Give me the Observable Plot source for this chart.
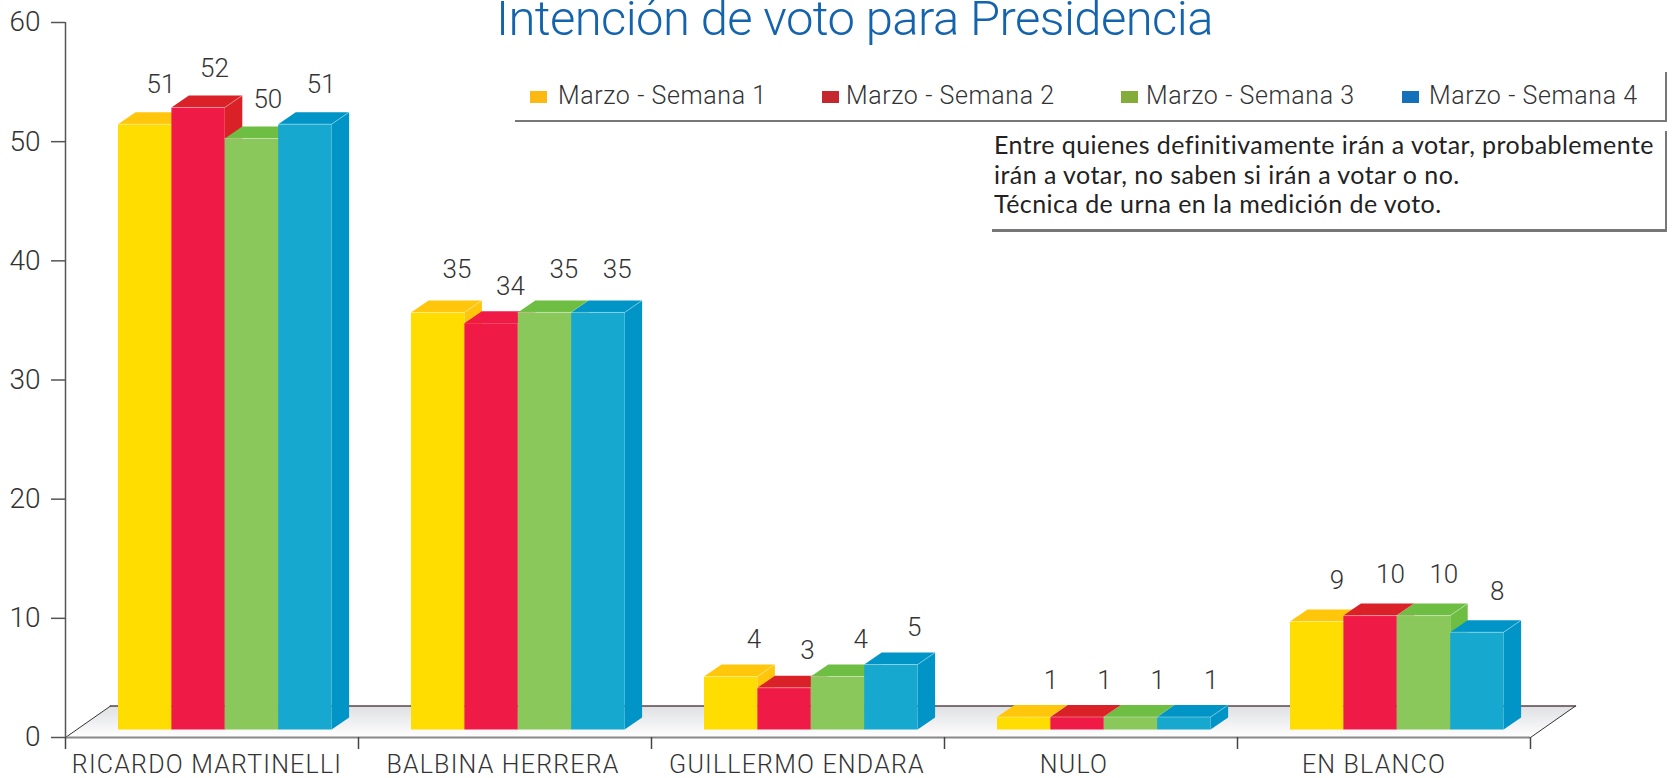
<!DOCTYPE html>
<html lang="es">
<head>
<meta charset="utf-8">
<script src="https://cdn.jsdelivr.net/npm/d3@7"></script>
<script src="https://cdn.jsdelivr.net/npm/@observablehq/plot@0.6"></script>
<style>
html,body{margin:0;padding:0;background:#fff;overflow:hidden}
#wrap{position:relative;width:1680px;height:778px;overflow:hidden}
#wrap svg{position:absolute;left:0;top:0;overflow:visible}
.ov{position:absolute;white-space:nowrap}
#title{left:496px;top:-10px;font:300 49px Roboto,"Liberation Sans",sans-serif;letter-spacing:-.6px;color:#1463ad}
.lg{font:300 25px Roboto,"Liberation Sans",sans-serif;letter-spacing:.6px;color:#333;top:81px}
.sw{width:17px;height:12px;top:91px}
.rule{background:#777}
#note{left:994px;top:130px;font:25px/29.5px Lato,"Open Sans",sans-serif;letter-spacing:.45px;color:#222}
</style>
</head>
<body>
<div id="wrap"></div>
<script>
const categories = ["RICARDO MARTINELLI", "BALBINA HERRERA", "GUILLERMO ENDARA", "NULO", "EN BLANCO"];
const seriesNames = ["Marzo - Semana 1", "Marzo - Semana 2", "Marzo - Semana 3", "Marzo - Semana 4"];
// printed values
const semana1 = [51, 35, 4, 1, 9];
const semana2 = [52, 34, 3, 1, 10];
const semana3 = [50, 35, 4, 1, 10];
const semana4 = [51, 35, 5, 1, 8];
// bar heights as drawn in the picture
const drawn1 = [50.8, 35, 4.45, 1.05, 9.06];
const drawn2 = [52.2, 34.1, 3.5, 1.05, 9.56];
const drawn3 = [49.6, 35, 4.45, 1.05, 9.56];
const drawn4 = [50.8, 35, 5.45, 1.05, 8.16];
const yTicks = [0, 10, 20, 30, 40, 50, 60];

const printed = [semana1, semana2, semana3, semana4];
const drawn = [drawn1, drawn2, drawn3, drawn4];
const front = ["#FFDD00", "#EF1A46", "#8BC85C", "#16A8CF"];
const shade = ["#FFC60B", "#DA2128", "#6FBE44", "#0095C6"];
const swatch = ["#FDB913", "#C4272D", "#83AC3B", "#1470B8"];

// 3D look, in scale units
const pxX = 1 / 293, pxY = 1 / 11.92;
const barW = 53.4 * pxX, barStart = 52.5 * pxX;
const depthX = 17.5 * pxX, depthY = 12 * pxY;
const floorBase = 8 * pxY;
const floorX = 45 * pxX, floorY = 31.5 * pxY;
const labelShift = [43, 46, 50, 54, 47];
const labelLift = [39, 43, 37, 36, 41];
const labelDrop = {"1-1": 7};
const flatTop = {"1-1": true}; // the reference paints this bar's top in its front colour
const catNudge = [-5, -2, -1, -17, -10];

const poly = (pts, opts) => Plot.line(pts, {x: d => d[0], y: d => d[1], curve: "linear-closed", ...opts});
const edge = (pts) => Plot.line(pts, {x: d => d[0], y: d => d[1], stroke: "#fff", strokeOpacity: 0.35, strokeWidth: 1});

const barMarks = categories.flatMap((c, g) => printed.flatMap((_, s) => {
  const x0 = g + barStart + s * barW, x1 = x0 + barW;
  const y0 = floorBase, y1 = floorBase + drawn[s][g];
  const flat = flatTop[g + "-" + s];
  return [
    poly([[x1, y0], [x1 + depthX, y0 + depthY], [x1 + depthX, y1 + depthY], [x1, y1]], {fill: shade[s], stroke: "none"}),
    poly([[x0, y1], [x0 + depthX, y1 + depthY], [x1 + depthX, y1 + depthY], [x1, y1]], {fill: flat ? front[s] : shade[s], stroke: "none"}),
    poly([[x0, y0], [x1, y0], [x1, y1], [x0, y1]], {fill: front[s], stroke: "none"}),
    ...(flat ? [] : [edge([[x0, y1], [x1, y1], [x1 + depthX, y1 + depthY]])])
  ];
}));

const labelMarks = categories.flatMap((c, g) => printed.map((vals, s) => {
  const x0 = g + barStart + s * barW;
  return Plot.text([vals[g]], {
    x: () => x0, y: () => floorBase + drawn[s][g],
    text: d => String(d),
    dx: labelShift[g],
    dy: -labelLift[g] + (labelDrop[g + "-" + s] || 0),
    fontSize: 26, fontWeight: 300, fill: "#333", textAnchor: "middle", lineAnchor: "middle"
  });
}));

const catMarks = categories.map((c, g) => Plot.text([c], {
  x: () => g + 0.5, y: () => 0, text: d => d,
  dx: catNudge[g], dy: 27, fontSize: 25, fontWeight: 300, fill: "#333",
  textAnchor: "middle", lineAnchor: "middle"
}));

const n = categories.length;
const chart = Plot.plot({
  width: 1680, height: 778,
  marginLeft: 65, marginRight: 150, marginTop: 22, marginBottom: 41,
  style: {fontFamily: "Roboto, 'Liberation Sans', sans-serif", background: "transparent"},
  x: {domain: [0, n], axis: null},
  y: {domain: [0, 60], axis: null},
  marks: [
    () => {
      const s = d3.create("svg:defs");
      const g = s.append("linearGradient").attr("id", "floorGrad").attr("x1", 0).attr("x2", 0).attr("y1", 0).attr("y2", 1);
      g.append("stop").attr("offset", "0%").attr("stop-color", "#dfe0e3");
      g.append("stop").attr("offset", "100%").attr("stop-color", "#ffffff");
      return s.node();
    },
    poly([[0, 0], [n, 0], [n + floorX, floorY], [floorX, floorY]], {fill: "url(#floorGrad)", stroke: "none"}),
    Plot.line([[floorX, floorY], [n + floorX, floorY]], {x: d => d[0], y: d => d[1], stroke: "#5a4446", strokeWidth: 1.5}),
    Plot.line([[0, 0], [floorX, floorY]], {x: d => d[0], y: d => d[1], stroke: "#333", strokeWidth: 1}),
    Plot.line([[n, 0], [n + floorX, floorY]], {x: d => d[0], y: d => d[1], stroke: "#333", strokeWidth: 1}),
    Plot.ruleY([0], {x1: 0, x2: n, stroke: "#888", strokeWidth: 2}),
    Plot.ruleX([0], {y1: 0, y2: 60, stroke: "#555", strokeWidth: 1.5}),
    Plot.axisY({ticks: yTicks, tickSize: 14, tickPadding: 11, fontSize: 28, fontWeight: 300, stroke: "#555", strokeWidth: 1.5, fill: "#333", label: null, tickFormat: d => String(d)}),
    Plot.axisX({ticks: d3.range(n + 1), tickSize: 12, tickFormat: () => "", stroke: "#444", strokeWidth: 1.5, label: null, marginBottom: 41}),
    ...barMarks,
    ...labelMarks,
    ...catMarks
  ]
});
d3.select(chart).selectAll("text").filter(function () { return categories.includes(this.textContent); }).style("letter-spacing", "1.2px");

const wrap = document.getElementById("wrap");
wrap.appendChild(chart);

function add(cls, id, css, text) {
  const e = document.createElement("div");
  e.className = "ov " + cls;
  if (id) e.id = id;
  Object.assign(e.style, css);
  if (text) e.textContent = text;
  wrap.appendChild(e);
  return e;
}
add("", "title", {}, "Intención de voto para Presidencia");
const swatchLeft = [530, 822, 1121, 1402];
const textLeft = [558, 846, 1146, 1429];
seriesNames.forEach((name, i) => {
  add("sw", null, {left: swatchLeft[i] + "px", background: swatch[i]});
  add("lg", null, {left: textLeft[i] + "px"}, name);
});
add("rule", null, {left: "515px", top: "120px", width: "1152px", height: "2px"});
add("rule", null, {left: "1665px", top: "72px", width: "2px", height: "50px"});
add("rule", null, {left: "1665px", top: "131px", width: "2px", height: "99px"});
add("rule", null, {left: "992px", top: "229px", width: "675px", height: "3px"});
const note = add("", "note", {});
note.innerHTML = "Entre quienes definitivamente irán a votar, probablemente<br>irán a votar, no saben si irán a votar o no.<br>Técnica de urna en la medición de voto.";
</script>
</body>
</html>
